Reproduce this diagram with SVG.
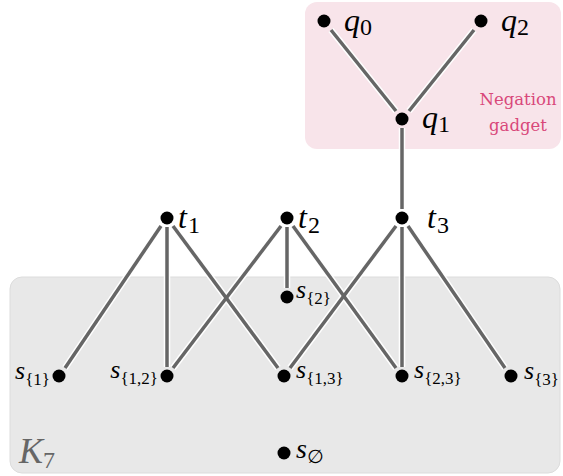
<svg xmlns="http://www.w3.org/2000/svg" width="563" height="476" viewBox="0 0 563 476">
<style>
.halo{stroke:#fff;stroke-width:6.5;fill:none;stroke-linecap:butt}
.edge{stroke:#666;stroke-width:3.5;fill:none;stroke-linecap:butt}
.dot{fill:#000}
.v{font-family:"Liberation Serif","DejaVu Serif",serif;font-style:italic;fill:#000}
.sub{font-style:normal}
.big{font-size:32px}
.sm{font-size:26px}
.bs{font-size:24px}
.ss{font-size:17px}
</style>
<rect x="305" y="2" width="256" height="147" rx="12" fill="#f8e4ea"/>
<rect x="10" y="277" width="550" height="196" rx="12" fill="#e8e8e8" stroke="#dcdcdc" stroke-width="1"/>
<text x="518" y="105" text-anchor="middle" font-family="DejaVu Serif,serif" font-size="16.5" fill="#d9487a">Negation</text>
<text x="518" y="131" text-anchor="middle" font-family="DejaVu Serif,serif" font-size="16.5" fill="#d9487a">gadget</text>
<text x="19" y="463" font-family="Liberation Serif,serif" font-style="italic" font-size="36" fill="#666">K<tspan font-style="normal" font-size="24" dy="5">7</tspan></text>
<g id="edges">
<g class="halo">
<line x1="331" y1="30" x2="396" y2="111"/>
<line x1="474" y1="30" x2="409" y2="111"/>
<line x1="402" y1="128" x2="402" y2="209"/>
<line x1="161" y1="226" x2="65" y2="368"/>
<line x1="167" y1="227" x2="167" y2="367"/>
<line x1="173" y1="226" x2="278" y2="368"/>
<line x1="281" y1="226" x2="173" y2="368"/>
<line x1="287" y1="227" x2="287" y2="288"/>
<line x1="293" y1="226" x2="396" y2="368"/>
<line x1="396" y1="226" x2="290" y2="368"/>
<line x1="402" y1="227" x2="402" y2="367"/>
<line x1="408" y1="226" x2="505" y2="368"/>
</g>
<g class="edge">
<line x1="331" y1="30" x2="396" y2="111"/>
<line x1="474" y1="30" x2="409" y2="111"/>
<line x1="402" y1="128" x2="402" y2="209"/>
<line x1="161" y1="226" x2="65" y2="368"/>
<line x1="167" y1="227" x2="167" y2="367"/>
<line x1="173" y1="226" x2="278" y2="368"/>
<line x1="281" y1="226" x2="173" y2="368"/>
<line x1="287" y1="227" x2="287" y2="288"/>
<line x1="293" y1="226" x2="396" y2="368"/>
<line x1="396" y1="226" x2="290" y2="368"/>
<line x1="402" y1="227" x2="402" y2="367"/>
<line x1="408" y1="226" x2="505" y2="368"/>
</g>
</g>
<g id="q0"><circle class="dot" cx="324" cy="21" r="6.5"/><text class="v big" x="344" y="31">q<tspan class="sub bs" dy="4">0</tspan></text></g>
<g id="q2"><circle class="dot" cx="481" cy="21" r="6.5"/><text class="v big" x="501" y="31">q<tspan class="sub bs" dy="4">2</tspan></text></g>
<g id="q1"><circle class="dot" cx="402" cy="119" r="6.5"/><text class="v big" x="422" y="128">q<tspan class="sub bs" dy="4">1</tspan></text></g>
<g id="t1"><circle class="dot" cx="167" cy="218" r="6.5"/><text class="v big" x="178" y="228">t<tspan class="sub bs" dx="1" dy="5">1</tspan></text></g>
<g id="t2"><circle class="dot" cx="287" cy="218" r="6.5"/><text class="v big" x="298" y="228">t<tspan class="sub bs" dx="1" dy="5">2</tspan></text></g>
<g id="t3"><circle class="dot" cx="402" cy="218" r="6.5"/><text class="v big" x="427" y="228">t<tspan class="sub bs" dx="1" dy="5">3</tspan></text></g>
<g id="s2"><circle class="dot" cx="287" cy="297" r="6.5"/><text class="v sm" x="296" y="298">s<tspan class="sub ss" dy="6">{2}</tspan></text></g>
<g id="s1"><circle class="dot" cx="59" cy="376" r="6.5"/><text class="v sm" x="50" y="379" text-anchor="end">s<tspan class="sub ss" dy="6">{1}</tspan></text></g>
<g id="s12"><circle class="dot" cx="167" cy="376" r="6.5"/><text class="v sm" x="158" y="378" text-anchor="end">s<tspan class="sub ss" dy="6">{1,2}</tspan></text></g>
<g id="s13"><circle class="dot" cx="284" cy="376" r="6.5"/><text class="v sm" x="296" y="378">s<tspan class="sub ss" dy="6">{1,3}</tspan></text></g>
<g id="s23"><circle class="dot" cx="402" cy="376" r="6.5"/><text class="v sm" x="414" y="378">s<tspan class="sub ss" dy="6">{2,3}</tspan></text></g>
<g id="s3"><circle class="dot" cx="511" cy="376" r="6.5"/><text class="v sm" x="524" y="379">s<tspan class="sub ss" dy="6">{3}</tspan></text></g>
<g id="sempty"><circle class="dot" cx="284" cy="453" r="6.5"/><text class="v" font-size="28" x="296" y="458">s<tspan class="sub" font-family="DejaVu Sans,sans-serif" font-size="19" dy="5">∅</tspan></text></g>
</svg>
